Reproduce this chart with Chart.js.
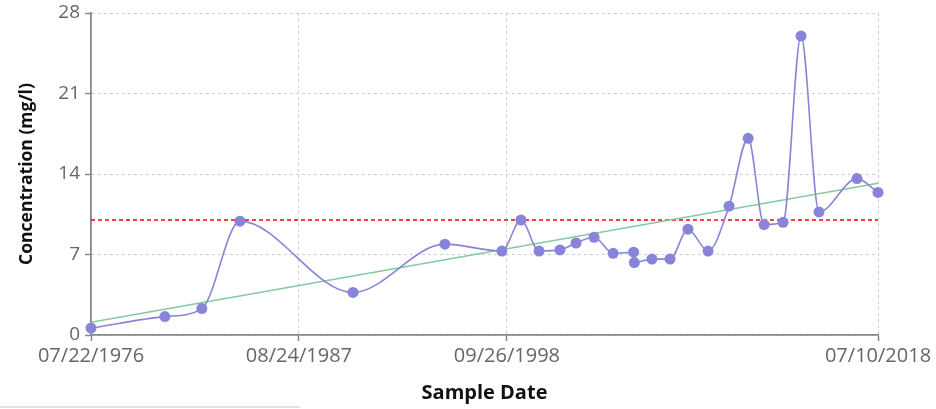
<!DOCTYPE html>
<html>
<head>
<meta charset="utf-8">
<script src="https://cdn.jsdelivr.net/npm/chart.js@4.4.1/dist/chart.umd.min.js"></script>
<style>
  body { margin: 0; background: #fff; }
  #wrap { position: relative; width: 936px; height: 409px; }
  #edge { position: absolute; left: 0; top: 406px; width: 300px; height: 2px; background: #e4e4e4; }
</style>
</head>
<body>
<div id="wrap">
  <canvas id="concChart"></canvas>
  <div id="edge"></div>
</div>
<script>
// sample dates and measured concentrations (mg/l)
var sampleDates = [
    '07/22/1976', '06/30/1980', '06/20/1982', '07/01/1984', '07/12/1990',
    '06/05/1995', '06/20/1998', '06/27/1999', '06/12/2000', '07/25/2001',
    '06/03/2002', '05/20/2003', '05/25/2004', '06/28/2005', '07/12/2005',
    '06/20/2006', '06/08/2007', '05/22/2008', '06/17/2009', '07/31/2010',
    '08/07/2011', '06/13/2012', '06/17/2013', '06/02/2014', '05/18/2015',
    '05/26/2017', '07/10/2018'
];
var concentrations = [
    0.6, 1.6, 2.3, 9.9, 3.7,
    7.9, 7.3, 10.0, 7.3, 7.4,
    8.0, 8.5, 7.1, 7.2, 6.3,
    6.6, 6.6, 9.2, 7.3, 11.2,
    17.1, 9.6, 9.8, 26.0, 10.7,
    13.6, 12.4
];
var trendValues = [1.1, 13.2];   // trend line at first / last sample date
var threshold = 10;
var xTickLabels = ['07/22/1976', '08/24/1987', '09/26/1998', '07/10/2018'];
var yTicks = [0, 7, 14, 21, 28];

function parseDate(s) {
    var p = s.split('/');
    return Date.UTC(+p[2], +p[0] - 1, +p[1]);
}
function pad(n) { return (n < 10 ? '0' : '') + n; }
function fmtDate(ms) {
    var d = new Date(ms);
    return pad(d.getUTCMonth() + 1) + '/' + pad(d.getUTCDate()) + '/' + d.getUTCFullYear();
}

var xs = sampleDates.map(parseDate);
var xMin = xs[0], xMax = xs[xs.length - 1];

var points = xs.map(function(x, i) { return {x: x, y: concentrations[i]}; });
var trend = [{x: xMin, y: trendValues[0]}, {x: xMax, y: trendValues[1]}];
var limit = [{x: xMin, y: threshold}, {x: xMax, y: threshold}];

var fam = "'Open Sans', sans-serif";

var ctx = document.getElementById('concChart').getContext('2d');
var concChart = new Chart(ctx, {
    type: 'line',
    data: {
        datasets: [{
            label: 'Concentration',
            data: points,
            borderColor: '#8884d8',
            backgroundColor: '#8884d8',
            borderWidth: 1.6,
            pointRadius: 5.5,
            pointBorderWidth: 0,
            cubicInterpolationMode: 'monotone',
            clip: false,
            fill: false
        }, {
            label: 'Trend',
            data: trend,
            borderColor: '#82ca9d',
            borderWidth: 1.5,
            pointRadius: 0,
            fill: false
        }, {
            label: 'Limit',
            data: limit,
            borderColor: '#ff0000',
            borderWidth: 1.5,
            borderDash: [4, 3],
            pointRadius: 0,
            fill: false
        }]
    },
    options: {
        responsive: true,
        maintainAspectRatio: false,
        animation: false,
        layout: { padding: {top: 13, right: 58, left: 0, bottom: 0} },
        plugins: { legend: {display: false}, tooltip: {enabled: false} },
        scales: {
            x: {
                type: 'linear',
                min: xMin,
                max: xMax,
                afterBuildTicks: function(scale) {
                    scale.ticks = xTickLabels.map(function(s) { return {value: parseDate(s)}; });
                },
                afterFit: function(scale) { scale.height = 74; },
                ticks: {
                    color: '#666',
                    font: {family: fam, size: 20},
                    padding: 3,
                    maxRotation: 0,
                    autoSkip: false,
                    callback: function(v) { return fmtDate(v); }
                },
                grid: { color: '#cfcfcf', tickColor: '#888', tickLength: 6, tickWidth: 1.5 },
                border: { color: '#888', width: 1.8, dash: [3, 3] },
                title: { display: true, text: 'Sample Date', color: '#111', font: {family: fam, size: 20, weight: 'bold'}, padding: {top: 0, bottom: 4} }
            },
            y: {
                min: 0,
                max: 28,
                afterBuildTicks: function(scale) {
                    scale.ticks = yTicks.map(function(v) { return {value: v}; });
                },
                afterFit: function(scale) {
                    scale.width = 91;
                    scale.paddingTop = 0;
                    scale.paddingBottom = 0;
                },
                ticks: { color: '#666', font: {family: fam, size: 19}, padding: 5 },
                grid: { color: '#cfcfcf', tickColor: '#888', tickLength: 6, tickWidth: 1.5 },
                border: { color: '#888', width: 1.8, dash: [3, 3] },
                title: { display: true, text: 'Concentration (mg/l)', color: '#111', font: {family: fam, size: 17.5, weight: 'bold'}, padding: {top: 17, bottom: 0} }
            }
        }
    }
});
</script>
</body>
</html>
